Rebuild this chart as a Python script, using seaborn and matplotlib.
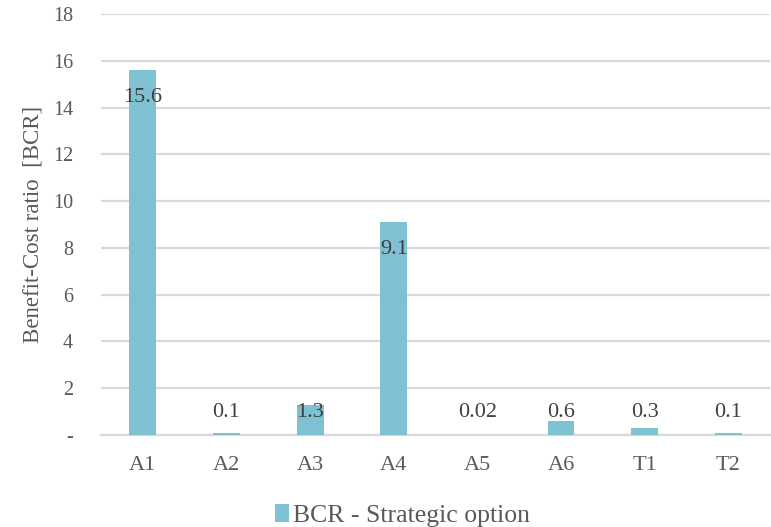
import matplotlib
matplotlib.use("Agg")
import matplotlib.pyplot as plt
import seaborn as sns
import pandas as pd
from matplotlib.patches import Patch

options = ["A1", "A2", "A3", "A4", "A5", "A6", "T1", "T2"]
bcr = [15.6, 0.1, 1.3, 9.1, 0.02, 0.6, 0.3, 0.1]
bcr_labels = ["15.6", "0.1", "1.3", "9.1", "0.02", "0.6", "0.3", "0.1"]
y_ticks = [0, 2, 4, 6, 8, 10, 12, 14, 16, 18]
y_tick_labels = ["-", "2", "4", "6", "8", "10", "12", "14", "16", "18"]

sns.set_theme(style="white")
plt.rcParams["font.family"] = ["Liberation Serif", "DejaVu Serif"]

bar_color = "#7FC1D3"
text_color = "#595959"
grid_color = "#D9D9D9"

df = pd.DataFrame({"option": options, "bcr": bcr})

fig = plt.figure(figsize=(7.71, 5.27), dpi=100)
ax = fig.add_axes([0.131, 0.1746, 0.868, 0.7988])

sns.barplot(data=df, x="option", y="bcr", color=bar_color, width=0.32,
            saturation=1, linewidth=0, edgecolor="none", ax=ax, zorder=3)

ax.set_ylim(0, 18)
ax.set_xlim(-0.5, len(options) - 0.5)
ax.set_yticks(y_ticks)
ax.set_yticklabels(y_tick_labels)
ax.set_axisbelow(True)
ax.yaxis.grid(True, color=grid_color, linewidth=1.6, zorder=0)
ax.xaxis.grid(False)
for s in ["top", "right", "left"]:
    ax.spines[s].set_visible(False)
ax.spines["bottom"].set_color(grid_color)
ax.spines["bottom"].set_linewidth(1.6)
ax.spines["bottom"].set_zorder(1)

ax.tick_params(axis="both", length=0, colors=text_color)
ax.tick_params(axis="y", pad=20, labelsize=14.5)
ax.tick_params(axis="x", pad=15, labelsize=16)
ax.set_xlabel("")
ax.set_ylabel("Benefit-Cost ratio  [BCR]", fontsize=16.5, color=text_color, labelpad=7)

for i, (v, lab) in enumerate(zip(bcr, bcr_labels)):
    ypos = max(v - 1.15, 0.98)
    ax.text(i, ypos, lab, ha="center", va="center", fontsize=16,
            color="#404040", zorder=5)

handles = [Patch(facecolor=bar_color, edgecolor="none", label="BCR - Strategic option")]
fig.legend(handles=handles, loc="center", bbox_to_anchor=(0.522, 0.022),
           frameon=False, fontsize=18.5, handlelength=0.55, handleheight=0.7,
           handletextpad=0.15, labelcolor=text_color, borderpad=0)

fig.savefig("out.png", dpi=100)
